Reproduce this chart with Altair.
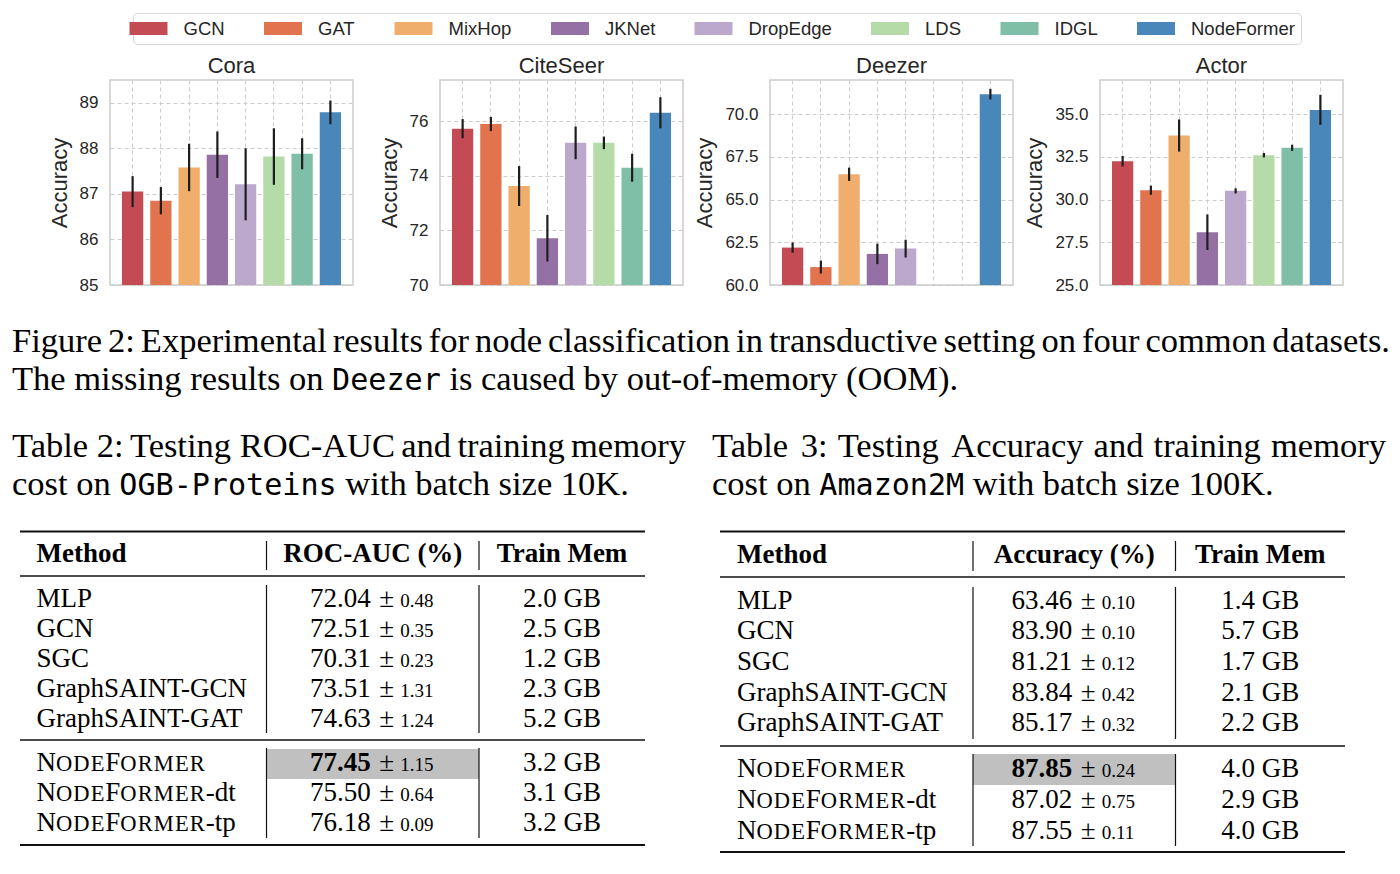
import altair as alt
import pandas as pd

# ---------------- data ----------------
METHODS = ["GCN", "GAT", "MixHop", "JKNet", "DropEdge", "LDS", "IDGL", "NodeFormer"]
COLORS = ["#c44a53", "#e2734f", "#f0ae6c", "#9470a5", "#bca7cd", "#b4dba8", "#7fbfa7", "#4987ba"]

cora_acc = [87.05, 86.85, 87.58, 87.86, 87.21, 87.82, 87.88, 88.79]
cora_err = [0.34, 0.30, 0.52, 0.51, 0.79, 0.62, 0.34, 0.26]
citeseer_acc = [75.72, 75.89, 73.62, 71.71, 75.20, 75.20, 74.29, 76.30]
citeseer_err = [0.35, 0.26, 0.73, 0.85, 0.60, 0.23, 0.51, 0.57]
deezer_acc = [62.19, 61.05, 66.48, 61.82, 62.13, None, None, 71.17]
deezer_err = [0.30, 0.38, 0.39, 0.60, 0.52, None, None, 0.31]
actor_acc = [32.25, 30.55, 33.75, 28.09, 30.51, 32.60, 33.03, 35.25]
actor_err = [0.31, 0.27, 0.94, 1.04, 0.15, 0.13, 0.18, 0.88]

panel_titles = ["Cora", "CiteSeer", "Deezer", "Actor"]
panel_domains = [[85, 89.5], [70, 77.5], [60, 72.0], [25, 37.0]]
panel_ticks = [[85, 86, 87, 88, 89], [70, 72, 74, 76], [60, 62.5, 65, 67.5, 70], [25, 27.5, 30, 32.5, 35]]
panel_formats = ["d", "d", ".1f", ".1f"]

base_methods = ["MLP", "GCN", "SGC", "GraphSAINT-GCN", "GraphSAINT-GAT"]
nf_suffixes = ["", "-dt", "-tp"]

t2_mean = [72.04, 72.51, 70.31, 73.51, 74.63]
t2_std = [0.48, 0.35, 0.23, 1.31, 1.24]
t2_mem = ["2.0 GB", "2.5 GB", "1.2 GB", "2.3 GB", "5.2 GB"]
t2_nf_mean = [77.45, 75.50, 76.18]
t2_nf_std = [1.15, 0.64, 0.09]
t2_nf_mem = ["3.2 GB", "3.1 GB", "3.2 GB"]

t3_mean = [63.46, 83.90, 81.21, 83.84, 85.17]
t3_std = [0.10, 0.10, 0.12, 0.42, 0.32]
t3_mem = ["1.4 GB", "5.7 GB", "1.7 GB", "2.1 GB", "2.2 GB"]
t3_nf_mean = [87.85, 87.02, 87.55]
t3_nf_std = [0.24, 0.75, 0.11]
t3_nf_mem = ["4.0 GB", "2.9 GB", "4.0 GB"]

fig_caption_1 = "Figure 2: Experimental results for node classification in transductive setting on four common datasets."
fig_caption_2 = [("The missing results on ", "serif"), ("Deezer", "mono"), (" is caused by out-of-memory (OOM).", "serif")]
t2_caption_1 = "Table 2: Testing ROC-AUC and training memory"
t2_caption_2 = [("cost on ", "serif"), ("OGB-Proteins", "mono"), (" with batch size 10K.", "serif")]
t3_caption_1 = "Table 3: Testing Accuracy and training memory"
t3_caption_2 = [("cost on ", "serif"), ("Amazon2M", "mono"), (" with batch size 100K.", "serif")]
t2_header = ["Method", "ROC-AUC (%)", "Train Mem"]
t3_header = ["Method", "Accuracy (%)", "Train Mem"]

# ---------------- styling ----------------
SANS = "Liberation Sans"
SERIF = "Liberation Serif"
MONO = "DejaVu Sans Mono"
TXT = "#262626"
GRID = "#cccccc"


def panel(title, acc, err, domain, ticks, fmt):
    rows = [dict(method=m, acc=a, lo=a - e, hi=a + e)
            for m, a, e in zip(METHODS, acc, err) if a is not None]
    df = pd.DataFrame(rows)
    yscale = alt.Scale(domain=domain, nice=False, zero=False)
    yaxis = alt.Axis(values=ticks, format=fmt, title="Accuracy",
                     titleFont=SANS, titleFontSize=22, titleFontWeight="normal",
                     titleColor=TXT, titlePadding=8,
                     labelFont=SANS, labelFontSize=17, labelColor=TXT, labelPadding=12,
                     ticks=False, tickSize=0, domain=False,
                     grid=True, gridColor=GRID, gridDash=[4, 3], gridWidth=1)
    xscale = alt.Scale(domain=METHODS, paddingInner=0.247, paddingOuter=0.424)
    x = alt.X("method:N", sort=METHODS, scale=xscale,
              axis=alt.Axis(labels=False, ticks=False, domain=False, title=None,
                            grid=True, gridColor=GRID, gridDash=[4, 3], gridWidth=1,
                            bandPosition=0.5))
    legend = alt.Legend(orient="none", legendX=23, legendY=-67, direction="horizontal",
                        columns=8, title=None,
                        symbolType="M-2,-0.684H2V0.684H-2Z", symbolSize=361,
                        symbolStrokeWidth=0, symbolOpacity=1,
                        labelFont=SANS, labelFontSize=18.5, labelColor=TXT,
                        labelOffset=25.5, columnPadding=38.5, padding=6,
                        strokeColor="#d6d6d6", fillColor="white", cornerRadius=4)
    bars = alt.Chart(df).mark_bar().encode(
        x=x,
        y=alt.Y("acc:Q", scale=yscale, axis=yaxis),
        y2=alt.datum(domain[0]),
        color=alt.Color("method:N", scale=alt.Scale(domain=METHODS, range=COLORS), legend=legend),
    )
    errs = alt.Chart(df).mark_rule(color="#1e1e1e", strokeWidth=2.2).encode(
        x=alt.X("method:N", sort=METHODS, scale=xscale),
        y=alt.Y("lo:Q", scale=yscale, axis=yaxis),
        y2="hi:Q",
    )
    return alt.layer(bars, errs).properties(
        width=243, height=205,
        title=alt.TitleParams(text=title, font=SANS, fontSize=22, fontWeight="normal",
                              color=TXT, offset=2),
    )


accs = [cora_acc, citeseer_acc, deezer_acc, actor_acc]
errs_ = [cora_err, citeseer_err, deezer_err, actor_err]
panels = [panel(panel_titles[i], accs[i], errs_[i], panel_domains[i], panel_ticks[i],
                panel_formats[i])
          for i in range(4)]
top = alt.hconcat(*panels, spacing=87, bounds="flush")

# ---------------- text / tables (reference-pixel layout) ----------------
X0, Y0 = 110, 294  # page position of the lower block's origin
TW = {" ": 250, ".": 250, ":": 278, "-": 333, "(": 333, ")": 333, "%": 833, "±": 564, ",": 250,
      "a": 444, "b": 500, "c": 444, "d": 500, "e": 444, "f": 333, "g": 500, "h": 500, "i": 278,
      "j": 278, "k": 500, "l": 278, "m": 778, "n": 500, "o": 500, "p": 500, "q": 500, "r": 333,
      "s": 389, "t": 278, "u": 500, "v": 500, "w": 722, "x": 500, "y": 500, "z": 444,
      "A": 722, "B": 667, "C": 667, "D": 722, "E": 611, "F": 556, "G": 722, "H": 722, "I": 333,
      "J": 389, "K": 722, "L": 611, "M": 889, "N": 722, "O": 722, "P": 556, "Q": 722, "R": 667,
      "S": 556, "T": 611, "U": 722, "V": 722, "W": 944, "X": 722, "Y": 722, "Z": 611}


def tw(s, size):
    return sum(TW.get(ch, 500) for ch in s) * size / 1000.0


items = []


def add(x, y, text, size, font=SERIF, weight="normal", align="left"):
    items.append(dict(x=x, y=y, text=text, size=size, font=font, weight=weight, align=align))


CAP = 34.5
MONO_SIZE = CAP * 0.525 / 0.602


def justified(line, xl, xr, base, size=CAP):
    words = line.split(" ")
    widths = [tw(w, size) for w in words]
    gap = (xr - xl - sum(widths)) / (len(words) - 1)
    x = xl
    for w, wd in zip(words, widths):
        add(x, base, w, size)
        x += wd + gap


def run(segs, x, base, size=CAP):
    for text, kind in segs:
        if kind == "mono":
            add(x, base, text, MONO_SIZE, font=MONO)
            x += len(text) * 0.525 * size
        else:
            lead = len(text) - len(text.lstrip(" "))
            trail = len(text) - len(text.rstrip(" "))
            core = text.strip(" ")
            x += lead * 0.25 * size
            add(x, base, core, size)
            x += tw(core, size) + trail * 0.25 * size


justified(fig_caption_1, 12, 1390, 352)
run(fig_caption_2, 12, 390)
justified(t2_caption_1, 12, 686, 457)
run(t2_caption_2, 12, 495)
justified(t3_caption_1, 712, 1386, 457)
run(t3_caption_2, 712, 495)

FS = 27
STD = 19
rules = []
rects = []


def nodeformer(x, base, suffix, big=FS, small=22.5, adv=24):
    for ch, isbig in [("N", 1), ("O", 0), ("D", 0), ("E", 0), ("F", 1),
                      ("O", 0), ("R", 0), ("M", 0), ("E", 0), ("R", 0)]:
        if isbig:
            add(x, base, ch, big)
            x += tw(ch, big)
        else:
            add(x, base, ch, small)
            x += tw(ch, adv)
    if suffix:
        add(x, base, suffix, big)


def table(L, header, means, stds, mems, nf_means, nf_stds, nf_mems):
    cx = (L["c1"] + L["c2"]) / 2
    mx = (L["c2"] + L["x1"]) / 2
    rules.append(dict(x=L["x0"], x2=L["x1"], y=L["top"], y2=L["top"], w=2.0))
    rules.append(dict(x=L["x0"], x2=L["x1"], y=L["hrule"], y2=L["hrule"], w=1.3))
    rules.append(dict(x=L["x0"], x2=L["x1"], y=L["sep"], y2=L["sep"], w=1.3))
    rules.append(dict(x=L["x0"], x2=L["x1"], y=L["bot"], y2=L["bot"], w=2.0))
    for c in (L["c1"], L["c2"]):
        for (a, b) in (L["vh"], L["vb1"], L["vb2"]):
            rules.append(dict(x=c, x2=c, y=a, y2=b, w=1.2))
    rects.append(dict(x=L["c1"], x2=L["c2"], y=L["hl"][0], y2=L["hl"][1]))
    add(L["mx"], L["head"], header[0], FS, weight="bold")
    add(cx, L["head"], header[1], FS, weight="bold", align="center")
    add(mx, L["head"], header[2], FS, weight="bold", align="center")

    def value_cell(base, m, s, bold=False):
        add(cx - 2, base, "%.2f" % m, FS, weight="bold" if bold else "normal", align="right")
        add(cx + 6.5, base, "±", FS)
        add(cx + 27.5, base, "%.2f" % s, STD)

    for i, name in enumerate(base_methods):
        b = L["rows"][i]
        add(L["mx"], b, name, FS)
        value_cell(b, means[i], stds[i])
        add(mx, b, mems[i], FS, align="center")
    best = max(range(len(nf_means)), key=lambda k: nf_means[k])
    for i, suf in enumerate(nf_suffixes):
        b = L["nf"][i]
        nodeformer(L["mx"], b, suf)
        value_cell(b, nf_means[i], nf_stds[i], bold=(i == best))
        add(mx, b, nf_mems[i], FS, align="center")


T2 = dict(x0=20, x1=645, c1=266.5, c2=479, mx=36.5, top=531.5, hrule=576, sep=740, bot=845,
          head=562, rows=[607, 637, 667, 697, 727], nf=[771, 801, 831],
          vh=(541, 570), vb1=(585, 733), vb2=(748, 838), hl=(749, 779))
T3 = dict(x0=720, x1=1345, c1=973, c2=1175.5, mx=737, top=531.5, hrule=577, sep=746, bot=852,
          head=562.5, rows=[609, 639, 670, 701, 731], nf=[777, 808, 839],
          vh=(541, 571), vb1=(587, 739), vb2=(754, 846), hl=(754, 785))

table(T2, t2_header, t2_mean, t2_std, t2_mem, t2_nf_mean, t2_nf_std, t2_nf_mem)
table(T3, t3_header, t3_mean, t3_std, t3_mem, t3_nf_mean, t3_nf_std, t3_nf_mem)

xs = alt.Scale(domain=[0, 1400], range=[-X0, 1400 - X0], nice=False, zero=False)
ys = alt.Scale(domain=[0, 874], range=[-Y0, 874 - Y0], nice=False, zero=False)

layers = []
layers.append(alt.Chart(pd.DataFrame(rects)).mark_rect(color="#c0c0c0").encode(
    x=alt.X("x:Q", scale=xs, axis=None), x2="x2:Q",
    y=alt.Y("y:Q", scale=ys, axis=None), y2="y2:Q"))
layers.append(alt.Chart(pd.DataFrame(rules)).mark_rule(color="#111111", strokeCap="butt").encode(
    x=alt.X("x:Q", scale=xs, axis=None), x2="x2:Q",
    y=alt.Y("y:Q", scale=ys, axis=None), y2="y2:Q",
    strokeWidth=alt.StrokeWidth("w:Q", scale=None, legend=None)))

tdf = pd.DataFrame(items)
for (font, weight, align), g in tdf.groupby(["font", "weight", "align"]):
    layers.append(alt.Chart(g.reset_index(drop=True)).mark_text(
        font=font, fontWeight=weight, align=align, baseline="alphabetic", color="#000000"
    ).encode(
        x=alt.X("x:Q", scale=xs, axis=None),
        y=alt.Y("y:Q", scale=ys, axis=None),
        text="text:N",
        size=alt.Size("size:Q", scale=None, legend=None),
    ))

bottom = alt.layer(*layers).properties(
    width=1233, height=550, view=alt.ViewBackground(strokeOpacity=0))

chart = alt.vconcat(top, bottom, spacing=0).properties(
    padding={"left": 4, "top": 4, "right": 0, "bottom": 0},
    background="white",
).configure_view(stroke=GRID, strokeWidth=1.5)

chart.save("out.html", embed_options={"renderer": "svg", "actions": False})
